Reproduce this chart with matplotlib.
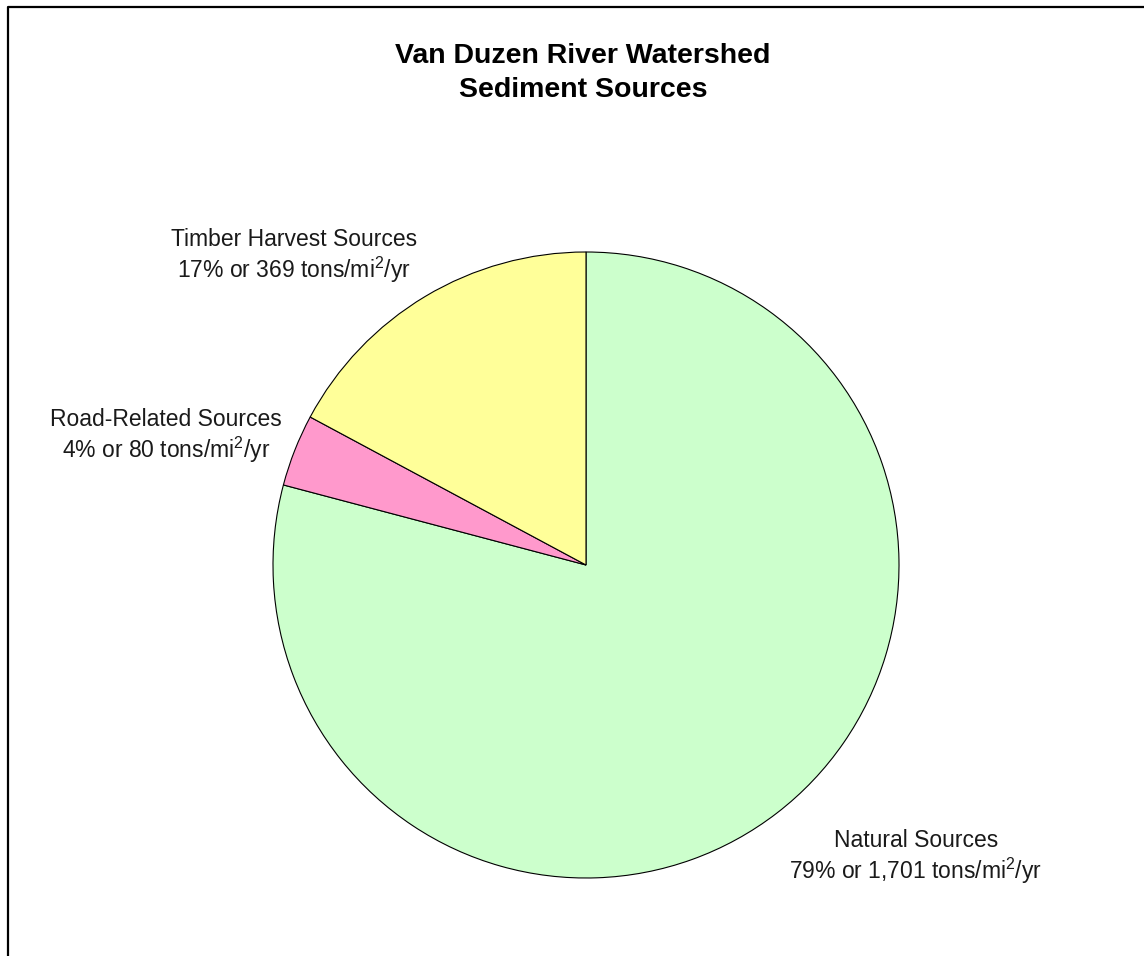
import matplotlib.pyplot as plt
from matplotlib.lines import Line2D

plt.rcParams['font.family'] = ['Liberation Sans', 'DejaVu Sans']
plt.rcParams['mathtext.default'] = 'regular'

# sediment sources, tons/mi^2/yr
sources = ['Natural Sources', 'Road-Related Sources', 'Timber Harvest Sources']
tons = [1701, 80, 369]
percents = ['79%', '4%', '17%']
colors = ['#CCFFCC', '#FF99CC', '#FFFF99']

# label placement in pie units (radius = 1)
label_pos = [(1.054, -0.935), (-1.342, 0.41), (-0.933, 0.985)]

W, H = 1144, 956
fig = plt.figure(figsize=(W / 100, H / 100), dpi=100)
fig.patch.set_facecolor('white')

cx, cy, r = 586, 565, 313
ax = fig.add_axes([(cx - r) / W, 1 - (cy + r) / H, 2 * r / W, 2 * r / H])
ax.pie(tons, colors=colors, startangle=90, counterclock=False, radius=1,
       wedgeprops=dict(edgecolor='black', linewidth=0.8))
ax.set_xlim(-1, 1)
ax.set_ylim(-1, 1)
ax.axis('off')

for name, t, p, (lx, ly) in zip(sources, tons, percents, label_pos):
    txt = f'{name}\n{p} or {t:,} tons/mi$^{{2}}$/yr'
    ax.text(lx, ly, txt, ha='center', va='center', fontsize=16.5,
            color='#1a1a1a', linespacing=1.15, clip_on=False)

fig.text(583 / W, 1 - 73 / H, 'Van Duzen River Watershed\nSediment Sources',
         ha='center', va='center', fontsize=20.5, fontweight='bold',
         linespacing=1.38)

# outer frame (left and top edges visible)
x0 = 7.5 / W
y0 = 1 - 7 / H
fig.add_artist(Line2D([x0, x0, 1], [0, y0, y0], color='black', linewidth=1.6,
                      transform=fig.transFigure))

fig.savefig('out.png', dpi=100)
